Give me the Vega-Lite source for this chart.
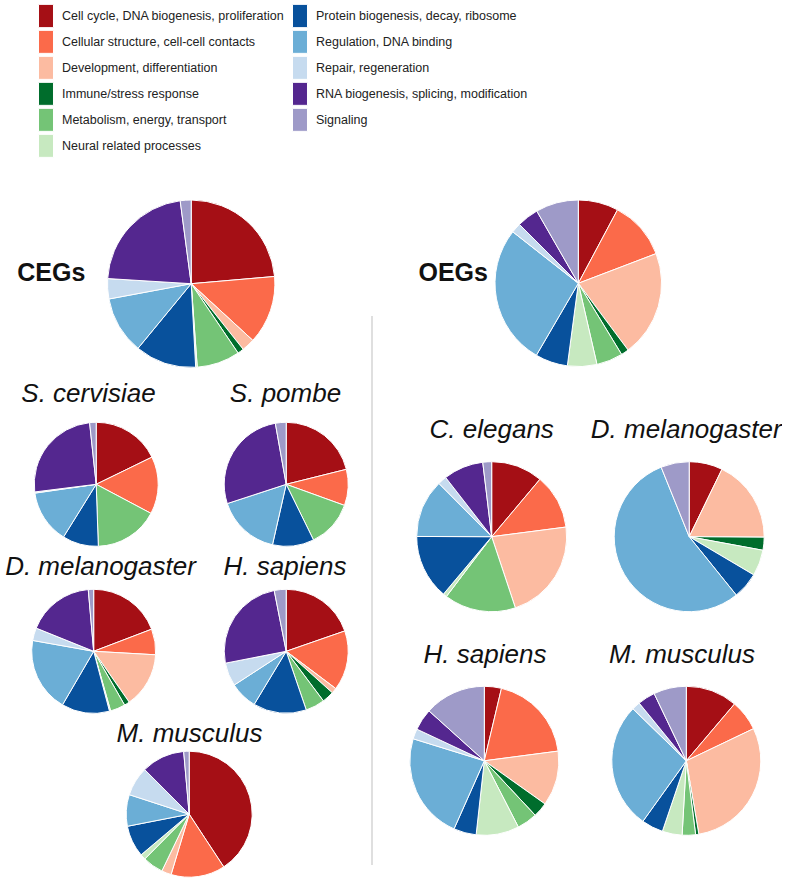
{
  "$schema": "https://vega.github.io/schema/vega-lite/v6.json",
  "padding": {"left": 0, "top": 4, "right": 0, "bottom": 0},
  "background": "white",
  "datasets": {
    "cats": [
      {"category": "Cell cycle, DNA biogenesis, proliferation", "k": 1},
      {"category": "Cellular structure, cell-cell contacts", "k": 2},
      {"category": "Development, differentiation", "k": 3},
      {"category": "Immune/stress response", "k": 4},
      {"category": "Metabolism, energy, transport", "k": 5},
      {"category": "Neural related processes", "k": 6},
      {"category": "Protein biogenesis, decay, ribosome", "k": 7},
      {"category": "Regulation, DNA binding", "k": 8},
      {"category": "Repair, regeneration", "k": 9},
      {"category": "RNA biogenesis, splicing, modification", "k": 10},
      {"category": "Signaling", "k": 11}
    ],
    "pies": [
      {"group": "CEGs", "species": "All", "category": "Cell cycle, DNA biogenesis, proliferation", "share": 23.6},
      {"group": "CEGs", "species": "All", "category": "Cellular structure, cell-cell contacts", "share": 13.2},
      {"group": "CEGs", "species": "All", "category": "Development, differentiation", "share": 2.5},
      {"group": "CEGs", "species": "All", "category": "Immune/stress response", "share": 1.2},
      {"group": "CEGs", "species": "All", "category": "Metabolism, energy, transport", "share": 8.3},
      {"group": "CEGs", "species": "All", "category": "Neural related processes", "share": 0.3},
      {"group": "CEGs", "species": "All", "category": "Protein biogenesis, decay, ribosome", "share": 11.8},
      {"group": "CEGs", "species": "All", "category": "Regulation, DNA binding", "share": 11.1},
      {"group": "CEGs", "species": "All", "category": "Repair, regeneration", "share": 3.9},
      {"group": "CEGs", "species": "All", "category": "RNA biogenesis, splicing, modification", "share": 21.9},
      {"group": "CEGs", "species": "All", "category": "Signaling", "share": 2.1},
      {"group": "OEGs", "species": "All", "category": "Cell cycle, DNA biogenesis, proliferation", "share": 7.8},
      {"group": "OEGs", "species": "All", "category": "Cellular structure, cell-cell contacts", "share": 11.4},
      {"group": "OEGs", "species": "All", "category": "Development, differentiation", "share": 20.6},
      {"group": "OEGs", "species": "All", "category": "Immune/stress response", "share": 1.5},
      {"group": "OEGs", "species": "All", "category": "Metabolism, energy, transport", "share": 5.1},
      {"group": "OEGs", "species": "All", "category": "Neural related processes", "share": 5.7},
      {"group": "OEGs", "species": "All", "category": "Protein biogenesis, decay, ribosome", "share": 6.3},
      {"group": "OEGs", "species": "All", "category": "Regulation, DNA binding", "share": 27.2},
      {"group": "OEGs", "species": "All", "category": "Repair, regeneration", "share": 1.9},
      {"group": "OEGs", "species": "All", "category": "RNA biogenesis, splicing, modification", "share": 4.2},
      {"group": "OEGs", "species": "All", "category": "Signaling", "share": 8.3},
      {"group": "CEGs", "species": "S. cervisiae", "category": "Cell cycle, DNA biogenesis, proliferation", "share": 17.8},
      {"group": "CEGs", "species": "S. cervisiae", "category": "Cellular structure, cell-cell contacts", "share": 15.0},
      {"group": "CEGs", "species": "S. cervisiae", "category": "Metabolism, energy, transport", "share": 16.7},
      {"group": "CEGs", "species": "S. cervisiae", "category": "Protein biogenesis, decay, ribosome", "share": 9.4},
      {"group": "CEGs", "species": "S. cervisiae", "category": "Regulation, DNA binding", "share": 13.9},
      {"group": "CEGs", "species": "S. cervisiae", "category": "Repair, regeneration", "share": 0.3},
      {"group": "CEGs", "species": "S. cervisiae", "category": "RNA biogenesis, splicing, modification", "share": 25.3},
      {"group": "CEGs", "species": "S. cervisiae", "category": "Signaling", "share": 1.7},
      {"group": "CEGs", "species": "S. pombe", "category": "Cell cycle, DNA biogenesis, proliferation", "share": 21.1},
      {"group": "CEGs", "species": "S. pombe", "category": "Cellular structure, cell-cell contacts", "share": 9.4},
      {"group": "CEGs", "species": "S. pombe", "category": "Metabolism, energy, transport", "share": 12.2},
      {"group": "CEGs", "species": "S. pombe", "category": "Protein biogenesis, decay, ribosome", "share": 10.8},
      {"group": "CEGs", "species": "S. pombe", "category": "Regulation, DNA binding", "share": 16.4},
      {"group": "CEGs", "species": "S. pombe", "category": "RNA biogenesis, splicing, modification", "share": 27.2},
      {"group": "CEGs", "species": "S. pombe", "category": "Signaling", "share": 2.8},
      {"group": "CEGs", "species": "D. melanogaster", "category": "Cell cycle, DNA biogenesis, proliferation", "share": 19.2},
      {"group": "CEGs", "species": "D. melanogaster", "category": "Cellular structure, cell-cell contacts", "share": 6.7},
      {"group": "CEGs", "species": "D. melanogaster", "category": "Development, differentiation", "share": 14.4},
      {"group": "CEGs", "species": "D. melanogaster", "category": "Immune/stress response", "share": 1.4},
      {"group": "CEGs", "species": "D. melanogaster", "category": "Metabolism, energy, transport", "share": 3.9},
      {"group": "CEGs", "species": "D. melanogaster", "category": "Neural related processes", "share": 0.3},
      {"group": "CEGs", "species": "D. melanogaster", "category": "Protein biogenesis, decay, ribosome", "share": 12.5},
      {"group": "CEGs", "species": "D. melanogaster", "category": "Regulation, DNA binding", "share": 19.4},
      {"group": "CEGs", "species": "D. melanogaster", "category": "Repair, regeneration", "share": 3.3},
      {"group": "CEGs", "species": "D. melanogaster", "category": "RNA biogenesis, splicing, modification", "share": 17.5},
      {"group": "CEGs", "species": "D. melanogaster", "category": "Signaling", "share": 1.4},
      {"group": "CEGs", "species": "H. sapiens", "category": "Cell cycle, DNA biogenesis, proliferation", "share": 19.7},
      {"group": "CEGs", "species": "H. sapiens", "category": "Cellular structure, cell-cell contacts", "share": 15.6},
      {"group": "CEGs", "species": "H. sapiens", "category": "Development, differentiation", "share": 1.4},
      {"group": "CEGs", "species": "H. sapiens", "category": "Immune/stress response", "share": 3.1},
      {"group": "CEGs", "species": "H. sapiens", "category": "Metabolism, energy, transport", "share": 5.0},
      {"group": "CEGs", "species": "H. sapiens", "category": "Protein biogenesis, decay, ribosome", "share": 13.9},
      {"group": "CEGs", "species": "H. sapiens", "category": "Regulation, DNA binding", "share": 7.2},
      {"group": "CEGs", "species": "H. sapiens", "category": "Repair, regeneration", "share": 6.1},
      {"group": "CEGs", "species": "H. sapiens", "category": "RNA biogenesis, splicing, modification", "share": 25.0},
      {"group": "CEGs", "species": "H. sapiens", "category": "Signaling", "share": 3.1},
      {"group": "CEGs", "species": "M. musculus", "category": "Cell cycle, DNA biogenesis, proliferation", "share": 40.8},
      {"group": "CEGs", "species": "M. musculus", "category": "Cellular structure, cell-cell contacts", "share": 13.9},
      {"group": "CEGs", "species": "M. musculus", "category": "Development, differentiation", "share": 2.5},
      {"group": "CEGs", "species": "M. musculus", "category": "Metabolism, energy, transport", "share": 5.3},
      {"group": "CEGs", "species": "M. musculus", "category": "Neural related processes", "share": 1.4},
      {"group": "CEGs", "species": "M. musculus", "category": "Protein biogenesis, decay, ribosome", "share": 8.1},
      {"group": "CEGs", "species": "M. musculus", "category": "Regulation, DNA binding", "share": 8.1},
      {"group": "CEGs", "species": "M. musculus", "category": "Repair, regeneration", "share": 7.5},
      {"group": "CEGs", "species": "M. musculus", "category": "RNA biogenesis, splicing, modification", "share": 11.1},
      {"group": "CEGs", "species": "M. musculus", "category": "Signaling", "share": 1.4},
      {"group": "OEGs", "species": "C. elegans", "category": "Cell cycle, DNA biogenesis, proliferation", "share": 11.1},
      {"group": "OEGs", "species": "C. elegans", "category": "Cellular structure, cell-cell contacts", "share": 11.8},
      {"group": "OEGs", "species": "C. elegans", "category": "Development, differentiation", "share": 21.9},
      {"group": "OEGs", "species": "C. elegans", "category": "Metabolism, energy, transport", "share": 15.4},
      {"group": "OEGs", "species": "C. elegans", "category": "Neural related processes", "share": 0.8},
      {"group": "OEGs", "species": "C. elegans", "category": "Protein biogenesis, decay, ribosome", "share": 13.9},
      {"group": "OEGs", "species": "C. elegans", "category": "Regulation, DNA binding", "share": 12.5},
      {"group": "OEGs", "species": "C. elegans", "category": "Repair, regeneration", "share": 1.9},
      {"group": "OEGs", "species": "C. elegans", "category": "RNA biogenesis, splicing, modification", "share": 8.6},
      {"group": "OEGs", "species": "C. elegans", "category": "Signaling", "share": 1.9},
      {"group": "OEGs", "species": "D. melanogaster", "category": "Cell cycle, DNA biogenesis, proliferation", "share": 7.2},
      {"group": "OEGs", "species": "D. melanogaster", "category": "Development, differentiation", "share": 17.9},
      {"group": "OEGs", "species": "D. melanogaster", "category": "Immune/stress response", "share": 2.8},
      {"group": "OEGs", "species": "D. melanogaster", "category": "Neural related processes", "share": 5.6},
      {"group": "OEGs", "species": "D. melanogaster", "category": "Protein biogenesis, decay, ribosome", "share": 5.7},
      {"group": "OEGs", "species": "D. melanogaster", "category": "Regulation, DNA binding", "share": 54.7},
      {"group": "OEGs", "species": "D. melanogaster", "category": "Signaling", "share": 6.1},
      {"group": "OEGs", "species": "H. sapiens", "category": "Cell cycle, DNA biogenesis, proliferation", "share": 3.7},
      {"group": "OEGs", "species": "H. sapiens", "category": "Cellular structure, cell-cell contacts", "share": 19.2},
      {"group": "OEGs", "species": "H. sapiens", "category": "Development, differentiation", "share": 11.9},
      {"group": "OEGs", "species": "H. sapiens", "category": "Immune/stress response", "share": 3.2},
      {"group": "OEGs", "species": "H. sapiens", "category": "Metabolism, energy, transport", "share": 4.4},
      {"group": "OEGs", "species": "H. sapiens", "category": "Neural related processes", "share": 9.3},
      {"group": "OEGs", "species": "H. sapiens", "category": "Protein biogenesis, decay, ribosome", "share": 4.9},
      {"group": "OEGs", "species": "H. sapiens", "category": "Regulation, DNA binding", "share": 23.1},
      {"group": "OEGs", "species": "H. sapiens", "category": "Repair, regeneration", "share": 2.2},
      {"group": "OEGs", "species": "H. sapiens", "category": "RNA biogenesis, splicing, modification", "share": 4.7},
      {"group": "OEGs", "species": "H. sapiens", "category": "Signaling", "share": 13.3},
      {"group": "OEGs", "species": "M. musculus", "category": "Cell cycle, DNA biogenesis, proliferation", "share": 11.2},
      {"group": "OEGs", "species": "M. musculus", "category": "Cellular structure, cell-cell contacts", "share": 6.7},
      {"group": "OEGs", "species": "M. musculus", "category": "Development, differentiation", "share": 29.4},
      {"group": "OEGs", "species": "M. musculus", "category": "Immune/stress response", "share": 0.7},
      {"group": "OEGs", "species": "M. musculus", "category": "Metabolism, energy, transport", "share": 2.9},
      {"group": "OEGs", "species": "M. musculus", "category": "Neural related processes", "share": 4.3},
      {"group": "OEGs", "species": "M. musculus", "category": "Protein biogenesis, decay, ribosome", "share": 4.7},
      {"group": "OEGs", "species": "M. musculus", "category": "Regulation, DNA binding", "share": 27.4},
      {"group": "OEGs", "species": "M. musculus", "category": "Repair, regeneration", "share": 1.8},
      {"group": "OEGs", "species": "M. musculus", "category": "RNA biogenesis, splicing, modification", "share": 3.8},
      {"group": "OEGs", "species": "M. musculus", "category": "Signaling", "share": 7.1}
    ]
  },
  "data": {"name": "pies"},
  "columns": 7,
  "bounds": "flush",
  "spacing": 0,
  "concat": [
    {"width": 92, "height": 102, "data": {"values": []}, "mark": "point"},
    {"width": 58, "height": 102, "data": {"values": []}, "mark": "point"},
    {"width": 88, "height": 102, "data": {"values": []}, "mark": "point"},
    {"width": 134, "height": 102, "data": {"values": []}, "mark": "point"},
    {"width": 108, "height": 102, "data": {"values": []}, "mark": "point"},
    {"width": 197, "height": 102, "data": {"values": []}, "mark": "point"},
    {"width": 0.01, "height": 102, "data": {"values": []}, "mark": "point"},

    {"width": 0.01, "height": 0.01, "data": {"values": []}, "mark": "point"},
    {"width": 0.01, "height": 0.01, "data": {"values": []}, "mark": "point"},
    {
      "width": 82.4, "height": 63.4,
      "title": {"text": "CEGs", "fontStyle": "normal", "fontWeight": "bold", "fontSize": 25, "anchor": "start", "dx": -132.7, "offset": -88},
      "transform": [{"filter": "datum.group === 'CEGs' && datum.species === 'All'"}, {"lookup": "category", "from": {"data": {"name": "cats"}, "key": "category", "fields": ["k"]}}],
      "mark": {"type": "arc", "radius": 83.7},
      "encoding": {
        "theta": {"field": "share", "type": "quantitative", "stack": true},
        "order": {"field": "k", "type": "quantitative"},
        "color": {"field": "category", "type": "nominal", "title": null,
          "scale": {"domain": ["Cell cycle, DNA biogenesis, proliferation", "Cellular structure, cell-cell contacts", "Development, differentiation", "Immune/stress response", "Metabolism, energy, transport", "Neural related processes", "Protein biogenesis, decay, ribosome", "Regulation, DNA binding", "Repair, regeneration", "RNA biogenesis, splicing, modification", "Signaling"], "range": ["#a50f15", "#fb6a4a", "#fcbba1", "#006d2c", "#74c476", "#c7e9c0", "#08519c", "#6baed6", "#c6dbef", "#54278f", "#9e9ac8"]},
          "legend": {"title": null}
        }
      }
    },
    {"width": 0.01, "height": 0.01, "data": {"values": []}, "mark": "point"},
    {"width": 0.01, "height": 0.01, "data": {"values": []}, "mark": "point"},
    {
      "width": 196.6, "height": 62.6,
      "title": {"text": "OEGs", "fontStyle": "normal", "fontWeight": "bold", "fontSize": 25, "anchor": "start", "dx": -61.5, "offset": -88},
      "transform": [{"filter": "datum.group === 'OEGs' && datum.species === 'All'"}, {"lookup": "category", "from": {"data": {"name": "cats"}, "key": "category", "fields": ["k"]}}],
      "mark": {"type": "arc", "radius": 83.3},
      "encoding": {
        "theta": {"field": "share", "type": "quantitative", "stack": true},
        "order": {"field": "k", "type": "quantitative"},
        "color": {"field": "category", "type": "nominal", "legend": null,
          "scale": {"domain": ["Cell cycle, DNA biogenesis, proliferation", "Cellular structure, cell-cell contacts", "Development, differentiation", "Immune/stress response", "Metabolism, energy, transport", "Neural related processes", "Protein biogenesis, decay, ribosome", "Regulation, DNA binding", "Repair, regeneration", "RNA biogenesis, splicing, modification", "Signaling"], "range": ["#a50f15", "#fb6a4a", "#fcbba1", "#006d2c", "#74c476", "#c7e9c0", "#08519c", "#6baed6", "#c6dbef", "#54278f", "#9e9ac8"]}}
      }
    },
    {"width": 0.01, "height": 0.01, "data": {"values": []}, "mark": "point"},

    {"width": 0.01, "height": 0.01, "data": {"values": []}, "mark": "point"},
    {"width": 0.01, "height": 0.01, "data": {"values": []}, "mark": "point"},
    {"width": 0.01, "height": 0.01, "data": {"values": []}, "mark": "point"},
    {"width": 0.01, "height": 0.01, "data": {"values": []}, "mark": "point"},
    {"width": 0.01, "height": 134, "data": {"values": [{"separator": "CEGs | OEGs"}]}, "mark": {"type": "rule", "color": "#d4d4d4", "strokeWidth": 1.5}, "encoding": {"x": {"datum": 0, "type": "quantitative", "scale": {"domain": [0, 1]}, "axis": null}}},
    {"width": 0.01, "height": 0.01, "data": {"values": []}, "mark": "point"},
    {"width": 0.01, "height": 0.01, "data": {"values": []}, "mark": "point"},

    {"width": 0.01, "height": 0.01, "data": {"values": []}, "mark": "point"},
    {
      "width": 8.4, "height": 68.6,
      "title": {"text": "S. cervisiae", "offset": 13.3, "dx": -7.7},
      "transform": [{"filter": "datum.group === 'CEGs' && datum.species === 'S. cervisiae'"}, {"lookup": "category", "from": {"data": {"name": "cats"}, "key": "category", "fields": ["k"]}}],
      "mark": {"type": "arc", "radius": 62},
      "encoding": {
        "theta": {"field": "share", "type": "quantitative", "stack": true},
        "order": {"field": "k", "type": "quantitative"},
        "color": {"field": "category", "type": "nominal", "legend": null,
          "scale": {"domain": ["Cell cycle, DNA biogenesis, proliferation", "Cellular structure, cell-cell contacts", "Development, differentiation", "Immune/stress response", "Metabolism, energy, transport", "Neural related processes", "Protein biogenesis, decay, ribosome", "Regulation, DNA binding", "Repair, regeneration", "RNA biogenesis, splicing, modification", "Signaling"], "range": ["#a50f15", "#fb6a4a", "#fcbba1", "#006d2c", "#74c476", "#c7e9c0", "#08519c", "#6baed6", "#c6dbef", "#54278f", "#9e9ac8"]}}
      }
    },
    {"width": 0.01, "height": 0.01, "data": {"values": []}, "mark": "point"},
    {
      "width": 96.4, "height": 68.6,
      "title": {"text": "S. pombe", "offset": 13.3, "dx": -0.7},
      "transform": [{"filter": "datum.group === 'CEGs' && datum.species === 'S. pombe'"}, {"lookup": "category", "from": {"data": {"name": "cats"}, "key": "category", "fields": ["k"]}}],
      "mark": {"type": "arc", "radius": 62},
      "encoding": {
        "theta": {"field": "share", "type": "quantitative", "stack": true},
        "order": {"field": "k", "type": "quantitative"},
        "color": {"field": "category", "type": "nominal", "legend": null,
          "scale": {"domain": ["Cell cycle, DNA biogenesis, proliferation", "Cellular structure, cell-cell contacts", "Development, differentiation", "Immune/stress response", "Metabolism, energy, transport", "Neural related processes", "Protein biogenesis, decay, ribosome", "Regulation, DNA binding", "Repair, regeneration", "RNA biogenesis, splicing, modification", "Signaling"], "range": ["#a50f15", "#fb6a4a", "#fcbba1", "#006d2c", "#74c476", "#c7e9c0", "#08519c", "#6baed6", "#c6dbef", "#54278f", "#9e9ac8"]}}
      }
    },
    {"width": 0.01, "height": 70, "data": {"values": [{"separator": "CEGs | OEGs"}]}, "mark": {"type": "rule", "color": "#d4d4d4", "strokeWidth": 1.5}, "encoding": {"x": {"datum": 0, "type": "quantitative", "scale": {"domain": [0, 1]}, "axis": null}}},
    {"width": 0.01, "height": 0.01, "data": {"values": []}, "mark": "point"},
    {"width": 0.01, "height": 0.01, "data": {"values": []}, "mark": "point"},

    {"width": 0.01, "height": 0.01, "data": {"values": []}, "mark": "point"},
    {"width": 0.01, "height": 0.01, "data": {"values": []}, "mark": "point"},
    {"width": 0.01, "height": 0.01, "data": {"values": []}, "mark": "point"},
    {"width": 0.01, "height": 0.01, "data": {"values": []}, "mark": "point"},
    {"width": 0.01, "height": 34, "data": {"values": [{"separator": "CEGs | OEGs"}]}, "mark": {"type": "rule", "color": "#d4d4d4", "strokeWidth": 1.5}, "encoding": {"x": {"datum": 0, "type": "quantitative", "scale": {"domain": [0, 1]}, "axis": null}}},
    {
      "width": 23.4, "height": 33.4,
      "title": {"text": "C. elegans", "offset": 16.7, "dx": 0},
      "transform": [{"filter": "datum.group === 'OEGs' && datum.species === 'C. elegans'"}, {"lookup": "category", "from": {"data": {"name": "cats"}, "key": "category", "fields": ["k"]}}],
      "mark": {"type": "arc", "radius": 75},
      "encoding": {
        "theta": {"field": "share", "type": "quantitative", "stack": true},
        "order": {"field": "k", "type": "quantitative"},
        "color": {"field": "category", "type": "nominal", "legend": null,
          "scale": {"domain": ["Cell cycle, DNA biogenesis, proliferation", "Cellular structure, cell-cell contacts", "Development, differentiation", "Immune/stress response", "Metabolism, energy, transport", "Neural related processes", "Protein biogenesis, decay, ribosome", "Regulation, DNA binding", "Repair, regeneration", "RNA biogenesis, splicing, modification", "Signaling"], "range": ["#a50f15", "#fb6a4a", "#fcbba1", "#006d2c", "#74c476", "#c7e9c0", "#08519c", "#6baed6", "#c6dbef", "#54278f", "#9e9ac8"]}}
      }
    },
    {
      "width": 24.4, "height": 33.4,
      "title": {"text": "D. melanogaster", "offset": 16.7, "dx": -3},
      "transform": [{"filter": "datum.group === 'OEGs' && datum.species === 'D. melanogaster'"}, {"lookup": "category", "from": {"data": {"name": "cats"}, "key": "category", "fields": ["k"]}}],
      "mark": {"type": "arc", "radius": 75},
      "encoding": {
        "theta": {"field": "share", "type": "quantitative", "stack": true},
        "order": {"field": "k", "type": "quantitative"},
        "color": {"field": "category", "type": "nominal", "legend": null,
          "scale": {"domain": ["Cell cycle, DNA biogenesis, proliferation", "Cellular structure, cell-cell contacts", "Development, differentiation", "Immune/stress response", "Metabolism, energy, transport", "Neural related processes", "Protein biogenesis, decay, ribosome", "Regulation, DNA binding", "Repair, regeneration", "RNA biogenesis, splicing, modification", "Signaling"], "range": ["#a50f15", "#fb6a4a", "#fcbba1", "#006d2c", "#74c476", "#c7e9c0", "#08519c", "#6baed6", "#c6dbef", "#54278f", "#9e9ac8"]}}
      }
    },

    {"width": 0.01, "height": 0.01, "data": {"values": []}, "mark": "point"},
    {
      "width": 3.4, "height": 194.6,
      "title": {"text": "D. melanogaster", "offset": -26, "dx": 6.8},
      "transform": [{"filter": "datum.group === 'CEGs' && datum.species === 'D. melanogaster'"}, {"lookup": "category", "from": {"data": {"name": "cats"}, "key": "category", "fields": ["k"]}}],
      "mark": {"type": "arc", "radius": 62},
      "encoding": {
        "theta": {"field": "share", "type": "quantitative", "stack": true},
        "order": {"field": "k", "type": "quantitative"},
        "color": {"field": "category", "type": "nominal", "legend": null,
          "scale": {"domain": ["Cell cycle, DNA biogenesis, proliferation", "Cellular structure, cell-cell contacts", "Development, differentiation", "Immune/stress response", "Metabolism, energy, transport", "Neural related processes", "Protein biogenesis, decay, ribosome", "Regulation, DNA binding", "Repair, regeneration", "RNA biogenesis, splicing, modification", "Signaling"], "range": ["#a50f15", "#fb6a4a", "#fcbba1", "#006d2c", "#74c476", "#c7e9c0", "#08519c", "#6baed6", "#c6dbef", "#54278f", "#9e9ac8"]}}
      }
    },
    {"width": 0.01, "height": 0.01, "data": {"values": []}, "mark": "point"},
    {
      "width": 96.4, "height": 194.6,
      "title": {"text": "H. sapiens", "offset": -26, "dx": -1.2},
      "transform": [{"filter": "datum.group === 'CEGs' && datum.species === 'H. sapiens'"}, {"lookup": "category", "from": {"data": {"name": "cats"}, "key": "category", "fields": ["k"]}}],
      "mark": {"type": "arc", "radius": 62},
      "encoding": {
        "theta": {"field": "share", "type": "quantitative", "stack": true},
        "order": {"field": "k", "type": "quantitative"},
        "color": {"field": "category", "type": "nominal", "legend": null,
          "scale": {"domain": ["Cell cycle, DNA biogenesis, proliferation", "Cellular structure, cell-cell contacts", "Development, differentiation", "Immune/stress response", "Metabolism, energy, transport", "Neural related processes", "Protein biogenesis, decay, ribosome", "Regulation, DNA binding", "Repair, regeneration", "RNA biogenesis, splicing, modification", "Signaling"], "range": ["#a50f15", "#fb6a4a", "#fcbba1", "#006d2c", "#74c476", "#c7e9c0", "#08519c", "#6baed6", "#c6dbef", "#54278f", "#9e9ac8"]}}
      }
    },
    {"width": 0.01, "height": 195, "data": {"values": [{"separator": "CEGs | OEGs"}]}, "mark": {"type": "rule", "color": "#d4d4d4", "strokeWidth": 1.5}, "encoding": {"x": {"datum": 0, "type": "quantitative", "scale": {"domain": [0, 1]}, "axis": null}}},
    {"width": 0.01, "height": 0.01, "data": {"values": []}, "mark": "point"},
    {"width": 0.01, "height": 0.01, "data": {"values": []}, "mark": "point"},

    {"width": 0.01, "height": 0.01, "data": {"values": []}, "mark": "point"},
    {"width": 0.01, "height": 0.01, "data": {"values": []}, "mark": "point"},
    {"width": 0.01, "height": 0.01, "data": {"values": []}, "mark": "point"},
    {"width": 0.01, "height": 0.01, "data": {"values": []}, "mark": "point"},
    {"width": 0.01, "height": 24, "data": {"values": [{"separator": "CEGs | OEGs"}]}, "mark": {"type": "rule", "color": "#d4d4d4", "strokeWidth": 1.5}, "encoding": {"x": {"datum": 0, "type": "quantitative", "scale": {"domain": [0, 1]}, "axis": null}}},
    {
      "width": 8.6, "height": 23.6,
      "title": {"text": "H. sapiens", "offset": 16.3, "dx": 0.7},
      "transform": [{"filter": "datum.group === 'OEGs' && datum.species === 'H. sapiens'"}, {"lookup": "category", "from": {"data": {"name": "cats"}, "key": "category", "fields": ["k"]}}],
      "mark": {"type": "arc", "radius": 74.5},
      "encoding": {
        "theta": {"field": "share", "type": "quantitative", "stack": true},
        "order": {"field": "k", "type": "quantitative"},
        "color": {"field": "category", "type": "nominal", "legend": null,
          "scale": {"domain": ["Cell cycle, DNA biogenesis, proliferation", "Cellular structure, cell-cell contacts", "Development, differentiation", "Immune/stress response", "Metabolism, energy, transport", "Neural related processes", "Protein biogenesis, decay, ribosome", "Regulation, DNA binding", "Repair, regeneration", "RNA biogenesis, splicing, modification", "Signaling"], "range": ["#a50f15", "#fb6a4a", "#fcbba1", "#006d2c", "#74c476", "#c7e9c0", "#08519c", "#6baed6", "#c6dbef", "#54278f", "#9e9ac8"]}}
      }
    },
    {
      "width": 18.6, "height": 23.6,
      "title": {"text": "M. musculus", "offset": 16.3, "dx": -4.3},
      "transform": [{"filter": "datum.group === 'OEGs' && datum.species === 'M. musculus'"}, {"lookup": "category", "from": {"data": {"name": "cats"}, "key": "category", "fields": ["k"]}}],
      "mark": {"type": "arc", "radius": 74.5},
      "encoding": {
        "theta": {"field": "share", "type": "quantitative", "stack": true},
        "order": {"field": "k", "type": "quantitative"},
        "color": {"field": "category", "type": "nominal", "legend": null,
          "scale": {"domain": ["Cell cycle, DNA biogenesis, proliferation", "Cellular structure, cell-cell contacts", "Development, differentiation", "Immune/stress response", "Metabolism, energy, transport", "Neural related processes", "Protein biogenesis, decay, ribosome", "Regulation, DNA binding", "Repair, regeneration", "RNA biogenesis, splicing, modification", "Signaling"], "range": ["#a50f15", "#fb6a4a", "#fcbba1", "#006d2c", "#74c476", "#c7e9c0", "#08519c", "#6baed6", "#c6dbef", "#54278f", "#9e9ac8"]}}
      }
    },

    {"width": 0.01, "height": 0.01, "data": {"values": []}, "mark": "point"},
    {"width": 0.01, "height": 0.01, "data": {"values": []}, "mark": "point"},
    {
      "width": 78.4, "height": 82.4,
      "title": {"text": "M. musculus", "offset": 2.2, "dx": 0.3},
      "transform": [{"filter": "datum.group === 'CEGs' && datum.species === 'M. musculus'"}, {"lookup": "category", "from": {"data": {"name": "cats"}, "key": "category", "fields": ["k"]}}],
      "mark": {"type": "arc", "radius": 63},
      "encoding": {
        "theta": {"field": "share", "type": "quantitative", "stack": true},
        "order": {"field": "k", "type": "quantitative"},
        "color": {"field": "category", "type": "nominal", "legend": null,
          "scale": {"domain": ["Cell cycle, DNA biogenesis, proliferation", "Cellular structure, cell-cell contacts", "Development, differentiation", "Immune/stress response", "Metabolism, energy, transport", "Neural related processes", "Protein biogenesis, decay, ribosome", "Regulation, DNA binding", "Repair, regeneration", "RNA biogenesis, splicing, modification", "Signaling"], "range": ["#a50f15", "#fb6a4a", "#fcbba1", "#006d2c", "#74c476", "#c7e9c0", "#08519c", "#6baed6", "#c6dbef", "#54278f", "#9e9ac8"]}}
      }
    },
    {"width": 0.01, "height": 0.01, "data": {"values": []}, "mark": "point"},
    {"width": 0.01, "height": 92, "data": {"values": [{"separator": "CEGs | OEGs"}]}, "mark": {"type": "rule", "color": "#d4d4d4", "strokeWidth": 1.5}, "encoding": {"x": {"datum": 0, "type": "quantitative", "scale": {"domain": [0, 1]}, "axis": null}}}
  ],
  "config": {
    "view": {"stroke": null},
    "arc": {"stroke": "white", "strokeWidth": 1},
    "title": {"font": "Liberation Sans", "fontSize": 26, "fontStyle": "italic", "fontWeight": "normal", "color": "#111111", "frame": "group", "baseline": "alphabetic", "anchor": "middle"},
    "legend": {
      "orient": "none", "legendX": 34, "legendY": -146, "columns": 2, "columnPadding": 3, "rowPadding": 2, "clipHeight": 23.7, "padding": 0,
      "symbolType": "M-0.652,-1H0.652V1H-0.652Z", "symbolSize": 529, "symbolStrokeWidth": 0, "symbolOpacity": 1,
      "labelFont": "Liberation Sans", "labelFontSize": 12.5, "labelColor": "#222222", "labelOffset": 4, "labelLimit": 400
    }
  }
}
